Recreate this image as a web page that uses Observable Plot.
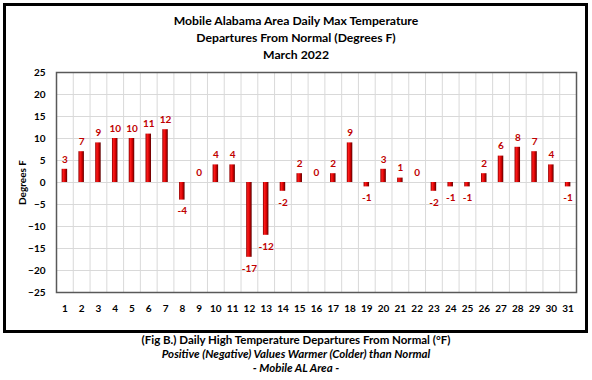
<!DOCTYPE html>
<html><head><meta charset="utf-8">
<script src="https://cdn.jsdelivr.net/npm/d3@7"></script>
<script src="https://cdn.jsdelivr.net/npm/@observablehq/plot@0.6"></script>
<style>
body{margin:0;background:#fff;}
#wrap{position:relative;width:592px;height:380px;font-family:Lato,"Open Sans",sans-serif;}
#frame{position:absolute;left:3px;top:3px;width:579px;height:324px;border:3px solid #000;pointer-events:none;}
#title{height:64px;box-sizing:border-box;padding-top:12px;text-align:center;font-weight:bold;font-size:12.2px;line-height:17px;color:#000;}
#caption{text-align:center;font-size:11.5px;line-height:14px;color:#000;padding-top:3px;font-weight:bold;}
#chart svg{display:block;}
</style></head>
<body>
<div id="wrap">
<div id="frame"></div>
<div id="title">Mobile Alabama Area Daily Max Temperature<br>Departures From Normal (Degrees F)<br>March 2022</div>
<div id="chart"></div>
<div id="caption">(Fig B.) Daily High Temperature Departures From Normal (°F)<br><i>Positive (Negative) Values Warmer (Colder) than Normal</i><br><i>- Mobile AL Area -</i></div>
</div>
<script>
const days = [1,2,3,4,5,6,7,8,9,10,11,12,13,14,15,16,17,18,19,20,21,22,23,24,25,26,27,28,29,30,31];
const departures = [3,7,9,10,10,11,12,-4,0,4,4,-17,-12,-2,2,0,2,9,-1,3,1,0,-2,-1,-1,2,6,8,7,4,-1];
const yTicks = [-25,-20,-15,-10,-5,0,5,10,15,20,25];

const data = days.map((d,i)=>({day:d, value:departures[i]}));
const W = 592, ML = 56, MR = 16;
const band = (W-ML-MR)/days.length;

const chart = Plot.plot({
  width: W, height: 266,
  marginLeft: ML, marginRight: MR, marginTop: 8, marginBottom: 38,
  style: {fontFamily: "Lato, 'Open Sans', sans-serif", fontSize: "10px", fontWeight: "bold", color: "#000", background: "#fff"},
  x: {type: "band", domain: days, padding: 0, round: false},
  y: {domain: [-25, 25]},
  marks: [
    Plot.ruleY(yTicks, {stroke: "#d9d9d9", strokeWidth: 1}),
    Plot.ruleX(days, {x: d=>d, dx: -band/2, stroke: "#d9d9d9", strokeWidth: 1}),
    Plot.barY(data, {x: "day", y: "value", fill: "url(#barGrad)", insetLeft: (band-5.5)/2, insetRight: (band-5.5)/2}),
    Plot.text(data.filter(d=>d.value>=0), {x: "day", y: "value", text: d=>String(d.value), dy: -10, fill: "#c00000", fontWeight: "bold", fontSize: 10}),
    Plot.text(data.filter(d=>d.value<0), {x: "day", y: "value", text: d=>String(d.value), dy: 11, fill: "#c00000", fontWeight: "bold", fontSize: 10}),
    Plot.frame({stroke: "#595959", strokeWidth: 1.5}),
    Plot.axisX({tickSize: 0, tickPadding: 12, label: null, fontWeight: "bold", fontSize: 10}),
    Plot.axisY({ticks: yTicks, tickSize: 0, tickPadding: 11, label: "Degrees F", labelAnchor: "center", labelArrow: "none", labelOffset: 38, fontWeight: "bold", fontSize: 10})
  ]
});

const defs = d3.select(chart).insert("defs", ":first-child");
const g = defs.append("linearGradient").attr("id","barGrad").attr("x1","0").attr("x2","1").attr("y1","0").attr("y2","0");
g.append("stop").attr("offset","0%").attr("stop-color","#8b0000");
g.append("stop").attr("offset","30%").attr("stop-color","#ff1a1a");
g.append("stop").attr("offset","65%").attr("stop-color","#d00000");
g.append("stop").attr("offset","100%").attr("stop-color","#5a0000");

document.getElementById("chart").appendChild(chart);
</script>
</body></html>
